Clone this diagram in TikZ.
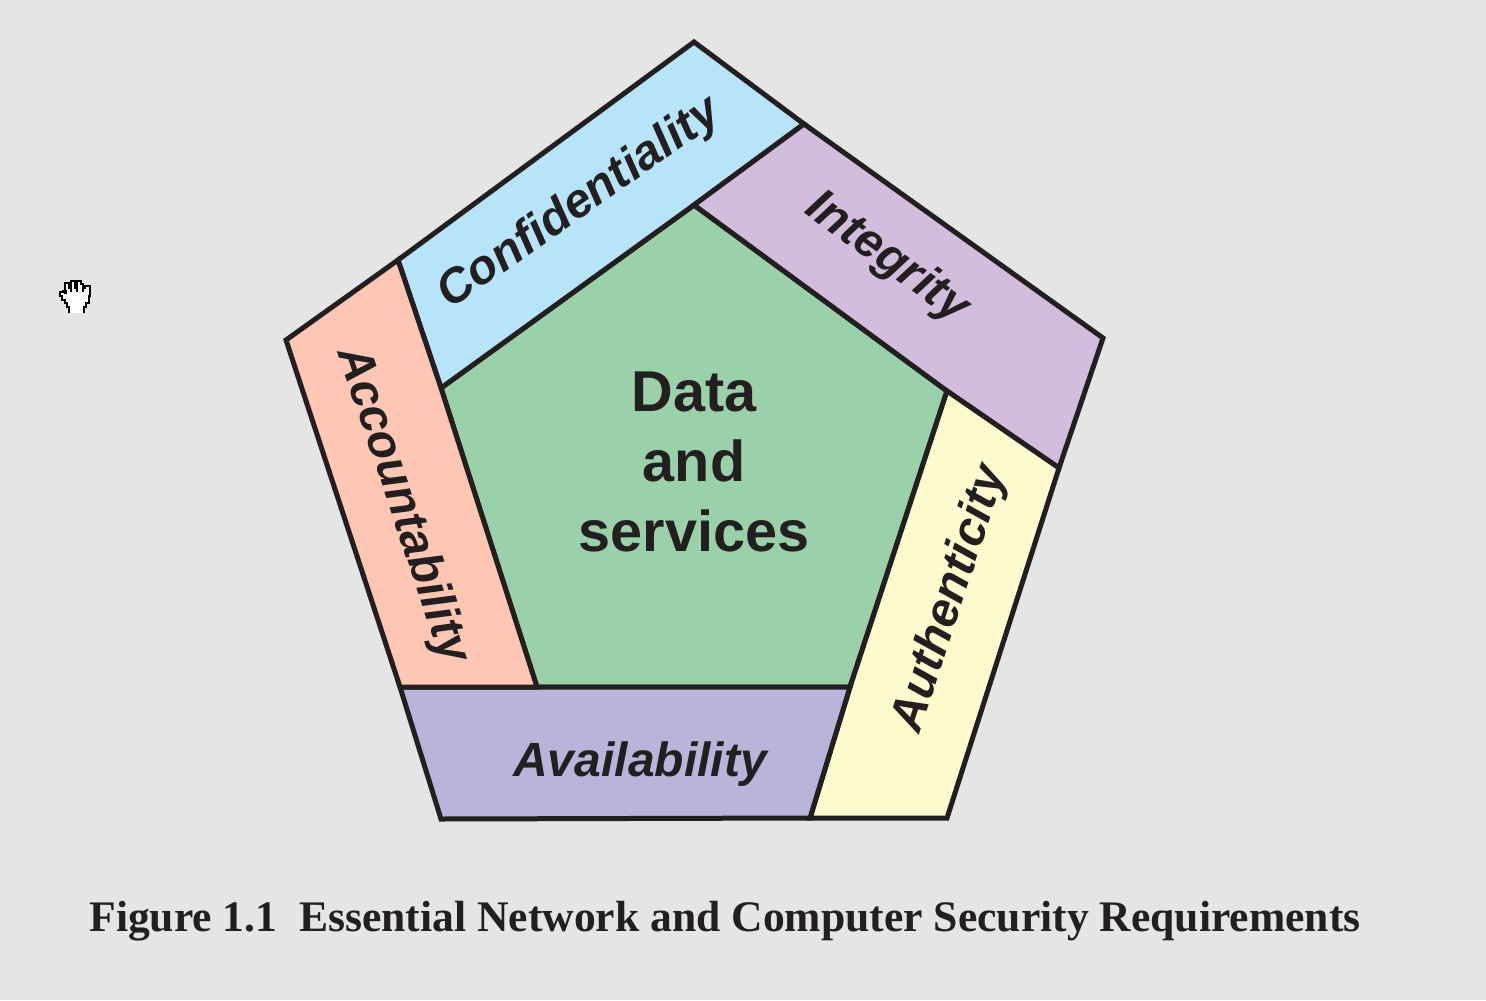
\documentclass[tikz,border=0pt]{standalone}
\usepackage{fontspec}
\setmainfont{Liberation Sans}
\newfontfamily\capfont{Liberation Serif}
\definecolor{bgc}{HTML}{E5E5E5}
\definecolor{inkc}{HTML}{231F20}
\definecolor{bluec}{HTML}{B7E4FA}
\definecolor{purplec}{HTML}{D2BEDC}
\definecolor{yellowc}{HTML}{FFFACD}
\definecolor{lavc}{HTML}{B9B5DA}
\definecolor{salmonc}{HTML}{FFC7B3}
\definecolor{greenc}{HTML}{9BD1AA}
\tikzset{
  x=0.5pt,y=-0.5pt,
  panel/.style={draw=inkc,line width=2.5pt,line join=miter,miter limit=3},
  sidelabel/.style={text=inkc,font=\fontsize{24pt}{28pt}\selectfont\bfseries\itshape,inner sep=0pt},
}
\begin{document}
\begin{tikzpicture}
\fill[bgc] (0,0) rectangle (1486,1000);
\useasboundingbox (0,0) rectangle (1486,1000);
\coordinate (T) at (694,42);
\coordinate (R) at (1103,338);
\coordinate (BR) at (947,818);
\coordinate (BL) at (441,819);
\coordinate (L) at (286,340);
\coordinate (iT) at (694,205);
\coordinate (iR) at (947,391);
\coordinate (iBR) at (850,687);
\coordinate (iBL) at (537,687);
\coordinate (iL) at (441,388);
\coordinate (dT) at (804,124);
\coordinate (dR) at (1059,468);
\coordinate (dB) at (810,818);
\coordinate (dBL) at (400,687);
\coordinate (dL) at (398,260);
\filldraw[panel,fill=greenc] (iT)--(iR)--(iBR)--(iBL)--(iL)--cycle;
\filldraw[panel,fill=bluec] (T)--(dT)--(iT)--(iL)--(dL)--cycle;
\filldraw[panel,fill=purplec] (dT)--(R)--(dR)--(iR)--(iT)--cycle;
\filldraw[panel,fill=yellowc] (iR)--(dR)--(BR)--(dB)--(iBR)--cycle;
\filldraw[panel,fill=lavc] (dBL)--(iBR)--(dB)--(BL)--cycle;
\filldraw[panel,fill=salmonc] (L)--(dL)--(iL)--(iBL)--(dBL)--cycle;
\node[sidelabel,rotate=35] (conf) at (580,204) {Confidentiality};
\node[sidelabel,rotate=-36] (integ) at (887,258) {Integrity};
\node[sidelabel,rotate=72] (auth) at (951,599) {Authenticity};
\node[sidelabel,rotate=-71.5] (acct) at (402,505) {Accountability};
\node[sidelabel] (avail) at (640,764) {Availability};
\node[text=inkc,align=center,inner sep=0pt,font=\fontsize{28.8pt}{35pt}\selectfont\bfseries] (core) at (694,462) {Data\\and\\services};
\node[text=inkc,inner sep=0pt,font=\fontsize{21.8pt}{26pt}\selectfont\capfont\bfseries] (cap) at (725,921) {Figure 1.1\ \ Essential Network and Computer Security Requirements};
% hand cursor
\filldraw[fill=white,draw=black,line width=0.9pt,line join=miter]
 (69,313)--(69,307)--(67,307)--(67,303)--(65,303)--(65,300)--(62,300)--(62,296)--(60,296)--(60,292)--(63,292)--(63,291)--(66,291)--(66,293)--(65,293)--(65,283)--(69,283)--(69,288)--(71,288)--(71,281)--(75,281)--(75,288)--(77,288)--(77,281)--(81,281)--(81,284)--(83,284)--(83,288)--(85,288)--(85,286)--(90,286)--(90,296)--(89,296)--(89,303)--(86,303)--(86,307)--(84,307)--(84,313);
\draw[black,line width=0.9pt] (71,288)--(71,292) (77,288)--(77,292) (83,288)--(83,292);
\end{tikzpicture}
\end{document}
